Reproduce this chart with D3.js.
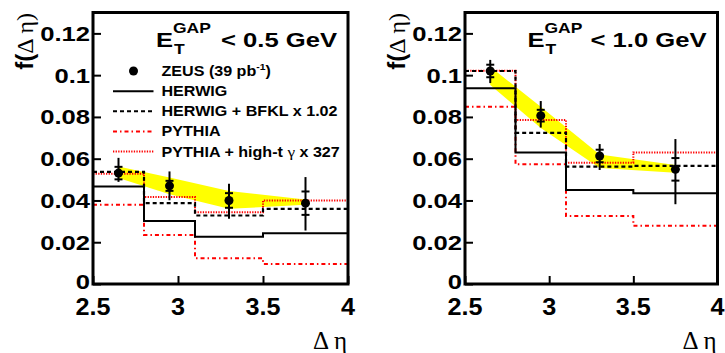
<!DOCTYPE html>
<html>
<head>
<meta charset="utf-8">
<script src="https://cdn.jsdelivr.net/npm/d3@7"></script>
<style>
  body { margin: 0; background: #fff; }
  svg { display: block; }
</style>
</head>
<body>
<div id="plot"></div>
<script>
// bins and ticks shared by both panels
const binEdges = [2.5, 2.8, 3.1, 3.5, 4.0];
const binCenters = [2.65, 2.95, 3.3, 3.75];
const xTicks = [2.5, 3, 3.5, 4];
const xTickLabels = ["2.5", "3", "3.5", "4"];
const yTicks = [0, 0.02, 0.04, 0.06, 0.08, 0.1, 0.12];
const yTickLabels = ["0", "0.02", "0.04", "0.06", "0.08", "0.1", "0.12"];

// ET gap < 0.5 GeV
const zeus05 = [0.0531, 0.0470, 0.0400, 0.0387];
const zeus05Stat = [0.0030, 0.0024, 0.0035, 0.0056];
const zeus05ErrUp = [0.0073, 0.0069, 0.0080, 0.0125];
const zeus05ErrDown = [0.0042, 0.0069, 0.0088, 0.0131];
const band05Low = [0.0507, 0.0430, 0.0360, 0.0379];
const band05High = [0.0563, 0.0510, 0.0445, 0.0405];
const herwig05 = [0.0467, 0.0302, 0.0226, 0.0243];
const bfkl05 = [0.0537, 0.0387, 0.0328, 0.0360];
const pythia05 = [0.0379, 0.0235, 0.0123, 0.0096];
const pythiaHighT05 = [0.0528, 0.0416, 0.0344, 0.0400];

// ET gap < 1.0 GeV
const zeus10 = [0.1020, 0.0806, 0.0613, 0.0549];
const zeus10Stat = [0.0030, 0.0028, 0.0030, 0.0054];
const zeus10ErrUp = [0.0053, 0.0070, 0.0057, 0.0145];
const zeus10ErrDown = [0.0058, 0.0057, 0.0067, 0.0167];
const band10Low = [0.0953, 0.0747, 0.0555, 0.0533];
const band10High = [0.1040, 0.0849, 0.0620, 0.0570];
const herwig10 = [0.0937, 0.0630, 0.0450, 0.0434];
const bfkl10 = [0.1020, 0.0724, 0.0562, 0.0566];
const pythia10 = [0.0849, 0.0573, 0.0326, 0.0279];
const pythiaHighT10 = [0.1021, 0.0785, 0.0581, 0.0630];

const legendLabels = ["ZEUS (39 pb", "HERWIG", "HERWIG + BFKL x 1.02", "PYTHIA", "PYTHIA + high-t "];

const width = 725, height = 353;
const sans = "'Liberation Sans', Arial, Helvetica, sans-serif";
const serif = "'Liberation Serif', 'Times New Roman', serif";

const svg = d3.select("#plot").append("svg")
    .attr("width", width)
    .attr("height", height);

// styles of the four histograms
const histStyles = {
  herwig: {stroke: "#000", dash: null, width: 2},
  bfkl:   {stroke: "#000", dash: "4,3", width: 2.2},
  pythia: {stroke: "#ff0000", dash: "4,3,1.5,3", width: 2},
  hight:  {stroke: "#ff0000", dash: "1.3,1.3", width: 2}
};

// bold text, stretched sideways like the original ROOT font
function stretchText(g, x, y, str, size, anchor, sx) {
  const t = g.append("g")
      .attr("transform", `translate(${x},${y}) scale(${sx},1)`)
      .append("text")
      .attr("font-family", sans)
      .attr("font-weight", "bold")
      .attr("font-size", size)
      .attr("text-anchor", anchor)
      .text(str);
  return t;
}

function drawPanel(p) {
  const x = d3.scaleLinear().domain([2.5, 4]).range([p.left, p.right]);
  const y = d3.scaleLinear().domain([0, 0.13]).range([284, 12.5]);
  const g = svg.append("g");

  // yellow band
  const area = d3.area()
      .x((d, i) => x(binCenters[i]))
      .y0(d => y(d[0]))
      .y1(d => y(d[1]));
  g.append("path")
      .datum(p.bandLow.map((v, i) => [v, p.bandHigh[i]]))
      .attr("d", area)
      .attr("fill", "#ffff00");

  // histograms
  const step = d3.line()
      .x(d => x(d[0]))
      .y(d => y(d[1]))
      .curve(d3.curveStepAfter);
  const hists = [
    [p.pythia, histStyles.pythia],
    [p.hight, histStyles.hight],
    [p.herwig, histStyles.herwig],
    [p.bfkl, histStyles.bfkl]
  ];
  hists.forEach(([vals, st]) => {
    const pts = binEdges.map((e, i) => [e, vals[Math.min(i, vals.length - 1)]]);
    g.append("path")
        .datum(pts)
        .attr("d", step)
        .attr("fill", "none")
        .attr("stroke", st.stroke)
        .attr("stroke-width", st.width)
        .attr("stroke-dasharray", st.dash);
  });

  // data points with errors
  const pts = g.append("g");
  p.zeus.forEach((v, i) => {
    const cx = x(binCenters[i]);
    pts.append("line")
        .attr("x1", cx).attr("x2", cx)
        .attr("y1", y(v + p.errUp[i])).attr("y2", y(v - p.errDown[i]))
        .attr("stroke", "#000").attr("stroke-width", 2);
    [v + p.stat[i], v - p.stat[i]].forEach(s => {
      pts.append("line")
          .attr("x1", cx - 4).attr("x2", cx + 4)
          .attr("y1", y(s)).attr("y2", y(s))
          .attr("stroke", "#000").attr("stroke-width", 2);
    });
    pts.append("circle")
        .attr("cx", cx).attr("cy", y(v)).attr("r", 4.5)
        .attr("fill", "#000");
  });

  // axes: inward ticks only
  const yAxis = d3.axisLeft(y).tickValues(yTicks).tickSize(-8).tickFormat("");
  g.append("g")
      .attr("transform", `translate(${p.left},0)`)
      .call(yAxis)
      .call(a => a.select(".domain").remove())
      .selectAll("line").attr("stroke-width", 2);
  const xAxis = d3.axisBottom(x).tickValues(xTicks).tickSize(-8).tickFormat("");
  g.append("g")
      .attr("transform", `translate(0,284)`)
      .call(xAxis)
      .call(a => a.select(".domain").remove())
      .selectAll("line").attr("stroke-width", 2);

  // frame
  g.append("rect")
      .attr("x", p.left).attr("y", 12.5)
      .attr("width", p.right - p.left).attr("height", 284 - 12.5)
      .attr("fill", "none")
      .attr("stroke", "#000")
      .attr("stroke-width", 3);

  // tick labels (the zero sits a little above its tick, as in the original)
  yTicks.forEach((t, i) => {
    const dy = t === 0 ? 4.5 : 7.5;
    stretchText(g, p.left - 3, y(t) + dy, yTickLabels[i], 21, "end", 1.22);
  });
  xTicks.forEach((t, i) => {
    stretchText(g, x(t), 315, xTickLabels[i], 24, "middle", 1.05);
  });

  // axis titles
  const yt = g.append("text")
      .attr("transform", `translate(${p.left - 60},13) rotate(-90)`)
      .attr("text-anchor", "end")
      .attr("font-size", 24);
  yt.append("tspan").attr("font-family", sans).attr("font-weight", "bold").text("f(");
  yt.append("tspan").attr("font-family", serif).text("\u0394 \u03b7)");

  g.append("text")
      .attr("x", p.right - 1).attr("y", 349)
      .attr("text-anchor", "end")
      .attr("font-family", serif)
      .attr("font-size", 25)
      .text("\u0394 \u03b7");

  // cut label
  stretchText(g, p.titleX, 46.7, "E", 21, "start", 1.22);
  stretchText(g, p.titleX + 17, 33, "GAP", 14, "start", 1.25);
  stretchText(g, p.titleX + 18, 53.5, "T", 14, "start", 1.25);
  stretchText(g, p.right - 11, 46.7, p.cut, 21, "end", 1.22);
}

drawPanel({
  left: 93, right: 348, titleX: 156, cut: "< 0.5 GeV",
  zeus: zeus05, stat: zeus05Stat, errUp: zeus05ErrUp, errDown: zeus05ErrDown,
  bandLow: band05Low, bandHigh: band05High,
  herwig: herwig05, bfkl: bfkl05, pythia: pythia05, hight: pythiaHighT05
});
drawPanel({
  left: 465, right: 717.5, titleX: 527.5, cut: "< 1.0 GeV",
  zeus: zeus10, stat: zeus10Stat, errUp: zeus10ErrUp, errDown: zeus10ErrDown,
  bandLow: band10Low, bandHigh: band10High,
  herwig: herwig10, bfkl: bfkl10, pythia: pythia10, hight: pythiaHighT10
});

// legend in the left panel
const leg = svg.append("g");
const legY = d3.scalePoint().domain(d3.range(legendLabels.length)).range([71, 151.5]);
const legKeys = [null, "herwig", "bfkl", "pythia", "hight"];
legendLabels.forEach((lab, i) => {
  const cy = legY(i);
  if (i === 0) {
    leg.append("circle").attr("cx", 133.5).attr("cy", cy).attr("r", 4.5).attr("fill", "#000");
  } else {
    const st = histStyles[legKeys[i]];
    leg.append("line")
        .attr("x1", 113).attr("x2", 153.5)
        .attr("y1", cy).attr("y2", cy)
        .attr("stroke", st.stroke)
        .attr("stroke-width", st.width)
        .attr("stroke-dasharray", st.dash);
  }
  const t = stretchText(leg, 161.5, cy + 5, lab, 14, "start", 1.15);
  if (i === 0) {
    t.append("tspan").attr("font-size", 9).attr("dy", -6).text("-1");
    t.append("tspan").attr("dy", 6).text(")");
  }
  if (i === 4) {
    t.append("tspan").attr("font-family", serif).attr("font-weight", "normal").attr("font-size", 15).text("\u03b3");
    t.append("tspan").text(" x 327");
  }
});
</script>
</body>
</html>
